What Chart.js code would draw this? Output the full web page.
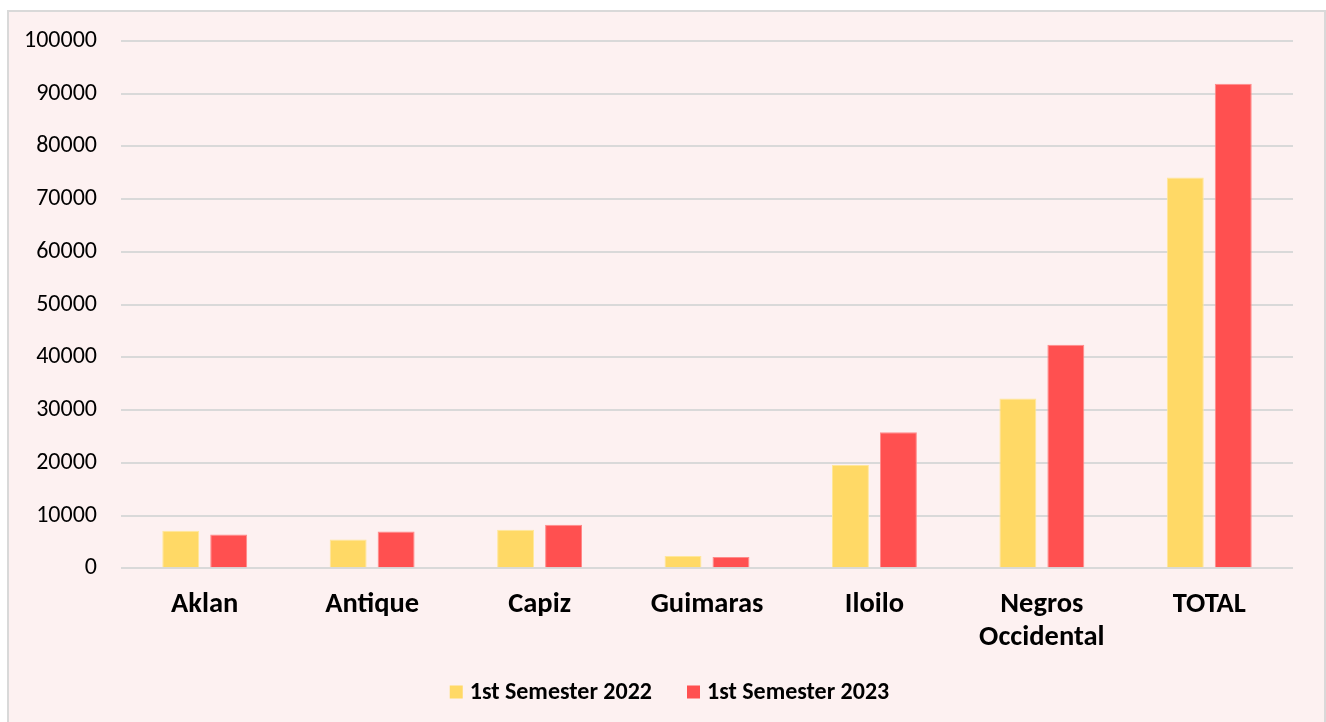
<!DOCTYPE html>
<html>
<head>
<meta charset="utf-8">
<script src="https://cdn.jsdelivr.net/npm/chart.js@4"></script>
<style>
  html, body { margin: 0; padding: 0; background: #ffffff; }
  #frame { position: absolute; left: 7px; top: 10px; width: 1315px; height: 716px;
           border: 2px solid #d9d9d9; background: #fdf1f1; }
  #wrap { position: absolute; left: 0; top: 0; width: 1326px; height: 722px; }
</style>
</head>
<body>
<div id="frame"></div>
<div id="wrap"><canvas id="c" width="1326" height="722"></canvas></div>
<script>
const categories = ["Aklan", "Antique", "Capiz", "Guimaras", "Iloilo", ["Negros", "Occidental"], "TOTAL"];
const seriesNames = ["1st Semester 2022", "1st Semester 2023"];
const sem2022 = [7100, 5450, 7300, 2350, 19600, 32200, 74100];
const sem2023 = [6400, 7000, 8250, 2150, 25800, 42400, 91900];
const yTicks = [0, 10000, 20000, 30000, 40000, 50000, 60000, 70000, 80000, 90000, 100000];

const FONT = "Carlito, 'Open Sans', sans-serif";

// Bottom legend drawn from the datasets (label + colour)
const bottomLegend = {
  id: 'bottomLegend',
  afterDraw(chart) {
    const ctx = chart.ctx;
    const font = "bold 24px " + FONT;
    const box = 13, gapText = 7, gapItem = 35;
    ctx.save();
    ctx.font = font;
    const items = chart.data.datasets.map(ds => ({ text: ds.label, color: ds.backgroundColor, w: ctx.measureText(ds.label).width }));
    const total = items.reduce((s, it) => s + box + gapText + it.w, 0) + gapItem * (items.length - 1);
    let x = 669.5 - total / 2;
    const y = 692;
    ctx.textBaseline = 'middle';
    ctx.textAlign = 'left';
    items.forEach(it => {
      ctx.fillStyle = it.color;
      ctx.fillRect(x, y - box / 2, box, box);
      x += box + gapText;
      ctx.fillStyle = '#000';
      ctx.fillText(it.text, x, y + 1);
      x += it.w + gapItem;
    });
    ctx.restore();
  }
};

new Chart(document.getElementById('c'), {
  type: 'bar',
  data: {
    labels: categories,
    datasets: [
      { label: seriesNames[0], data: sem2022, backgroundColor: '#ffd966', borderColor: '#ffe79a', borderWidth: 1 },
      { label: seriesNames[1], data: sem2023, backgroundColor: '#ff5050', borderColor: '#ff8a8a', borderWidth: 1 }
    ]
  },
  plugins: [bottomLegend],
  options: {
    responsive: false,
    animation: false,
    categoryPercentage: 0.573,
    barPercentage: 0.77,
    layout: { padding: { left: 0, right: 33, top: 41, bottom: 47 } },
    plugins: {
      tooltip: { enabled: false },
      legend: { display: false }
    },
    scales: {
      x: {
        grid: { display: false, drawTicks: false },
        border: { display: false },
        ticks: {
          font: { family: FONT, size: 28.5, weight: 'bold', lineHeight: 1.17 },
          color: '#000',
          padding: 20,
          maxRotation: 0, autoSkip: false
        }
      },
      y: {
        min: 0, max: 100000,
        afterFit: (s) => { s.width = 121; },
        afterBuildTicks: (s) => { s.ticks = yTicks.map(v => ({ value: v })); },
        grid: { color: '#d9d9d9', lineWidth: 2, drawTicks: false },
        border: { display: false },
        ticks: {
          font: { family: FONT, size: 24 },
          color: '#000',
          padding: 24,
          callback: (v) => String(v)
        }
      }
    }
  }
});
</script>
</body>
</html>
